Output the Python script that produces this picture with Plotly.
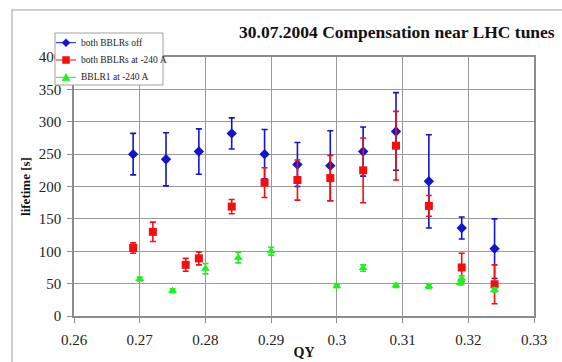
import plotly.graph_objects as go

# Lifetime vs vertical tune QY, 30.07.2004 measurements
qy_off = [0.269, 0.274, 0.279, 0.284, 0.289, 0.294, 0.299, 0.304, 0.309, 0.314, 0.319, 0.324]
life_off = [250, 242, 254, 282, 250, 234, 232, 254, 285, 208, 136, 104]
err_off = [32, 41, 35, 24, 38, 34, 54, 38, 60, 72, 17, 46]

qy_both = [0.269, 0.272, 0.277, 0.279, 0.284, 0.289, 0.294, 0.299, 0.304, 0.309, 0.314, 0.319, 0.324]
life_both = [105, 130, 79, 89, 169, 206, 210, 213, 225, 263, 170, 75, 49]
err_both = [8, 15, 10, 10, 11, 23, 31, 35, 50, 53, 16, 22, 30]

qy_one = [0.270, 0.275, 0.280, 0.285, 0.290, 0.300, 0.304, 0.309, 0.314, 0.3188, 0.319, 0.324]
life_one = [57, 39, 73, 90, 100, 46, 74, 47, 46, 51, 58, 40]
err_one = [3, 3, 8, 8, 6, 2, 5, 3, 3, 3, 4, 3]

x_ticks = [0.26, 0.27, 0.28, 0.29, 0.30, 0.31, 0.32, 0.33]
x_tick_text = ["0.26", "0.27", "0.28", "0.29", "0.3", "0.31", "0.32", "0.33"]
y_ticks = [0, 50, 100, 150, 200, 250, 300, 350, 400]

SERIF = "Liberation Serif, DejaVu Serif, serif"
W, H = 562, 362
ML, MR, MT, MB = 74, 28, 57, 46
PW, PH = W - ML - MR, H - MT - MB

series = [
    ("both BBLRs off", qy_off, life_off, err_off, "#1414C8", "diamond"),
    ("both BBLRs at -240 A", qy_both, life_both, err_both, "#F01010", "square"),
    ("BBLR1 at -240 A", qy_one, life_one, err_one, "#22EE22", "triangle-up"),
]

fig = go.Figure()
for name, xs, ys, es, color, symbol in series:
    fig.add_trace(go.Scatter(
        x=xs, y=ys, name=name, mode="markers",
        marker=dict(symbol=symbol, size=8, color=color),
        error_y=dict(type="data", array=es, visible=True,
                     color=color, thickness=1.6, width=3),
    ))


def px(x):
    return (x - ML) / PW


def py(y):
    return (H - MB - y) / PH


axis_common = dict(
    automargin=False,
    showgrid=True, gridcolor="#9A9A9A", gridwidth=1,
    showline=True, linecolor="#8C8C8C", linewidth=1.5, mirror=True,
    ticks="outside", ticklen=5, tickcolor="#8C8C8C",
    tickfont=dict(family=SERIF, size=15, color="#222222"),
    zeroline=False,
)

fig.update_xaxes(range=[0.26, 0.33], tickvals=x_ticks, ticktext=x_tick_text,
                 ticklabelstandoff=4,
                 title=dict(text="<b>QY</b>", font=dict(family=SERIF, size=14, color="#111111"),
                            standoff=0),
                 **axis_common)
fig.update_yaxes(range=[0, 400], tickvals=y_ticks, ticklabelstandoff=3,
                 title=dict(text="<b>lifetime [s]</b>", font=dict(family=SERIF, size=13, color="#111111"),
                            standoff=5),
                 **axis_common)

# hand-drawn legend box in the upper left corner
shapes = [
    dict(type="rect", xref="paper", yref="paper",
         x0=px(12), y0=-0.4, x1=1.3, y1=py(10),
         line=dict(color="#C0C0C0", width=1.5), fillcolor="rgba(0,0,0,0)", layer="below"),
    dict(type="rect", xref="paper", yref="paper",
         x0=px(55), y0=py(85), x1=px(163), y1=py(33),
         line=dict(color="#A0A0A0", width=1), fillcolor="white", layer="above"),
]
annotations = [dict(
    text="<b>30.07.2004 Compensation near LHC tunes</b>",
    xref="paper", yref="paper", x=px(557), y=py(32), xanchor="right", yanchor="middle",
    showarrow=False, font=dict(family=SERIF, size=17.5, color="#111111"),
)]

row_y = [42.7, 60, 77.3]
for (name, _, _, _, color, symbol), yc in zip(series, row_y):
    shapes.append(dict(type="line", xref="paper", yref="paper",
                       x0=px(56), x1=px(76), y0=py(yc), y1=py(yc),
                       line=dict(color=color, width=1), layer="above"))
    cx = 66
    if symbol == "diamond":
        path = f"M {px(cx)},{py(yc - 4)} L {px(cx + 4)},{py(yc)} L {px(cx)},{py(yc + 4)} L {px(cx - 4)},{py(yc)} Z"
    elif symbol == "square":
        path = f"M {px(cx - 3.5)},{py(yc - 3.5)} L {px(cx + 3.5)},{py(yc - 3.5)} L {px(cx + 3.5)},{py(yc + 3.5)} L {px(cx - 3.5)},{py(yc + 3.5)} Z"
    else:
        path = f"M {px(cx)},{py(yc - 4)} L {px(cx + 4)},{py(yc + 3.5)} L {px(cx - 4)},{py(yc + 3.5)} Z"
    shapes.append(dict(type="path", xref="paper", yref="paper", path=path,
                       line=dict(color=color, width=0.5), fillcolor=color, layer="above"))
    annotations.append(dict(text=name, xref="paper", yref="paper",
                            x=px(79), y=py(yc), xanchor="left", yanchor="middle",
                            showarrow=False,
                            font=dict(family=SERIF, size=9.5, color="#222222")))

fig.update_layout(
    width=W, height=H,
    margin=dict(l=ML, r=MR, t=MT, b=MB),
    font=dict(family=SERIF),
    paper_bgcolor="white", plot_bgcolor="white",
    showlegend=False,
    annotations=annotations,
    shapes=shapes,
)

fig.write_html("out.html")
